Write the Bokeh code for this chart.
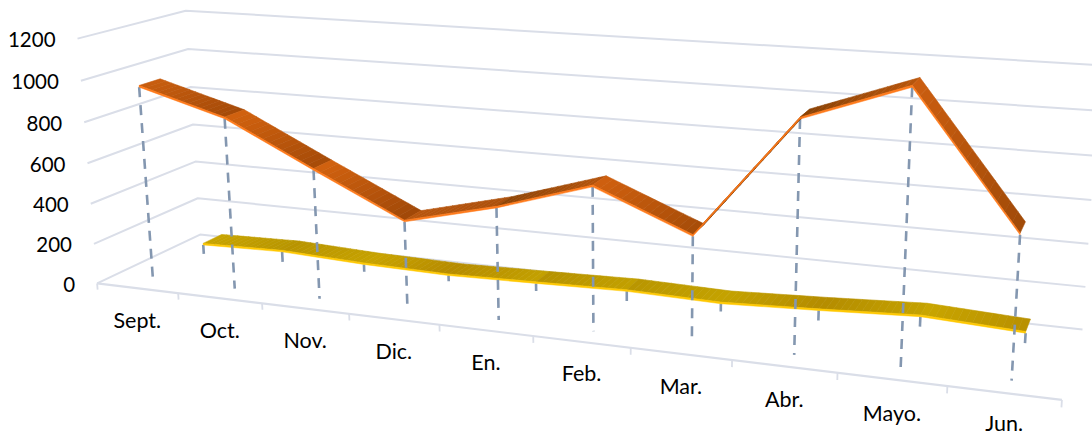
import numpy as np
from bokeh.plotting import figure
from bokeh.embed import file_html
from bokeh.resources import INLINE
from bokeh.core.properties import value

months = ["Sept.", "Oct.", "Nov.", "Dic.", "En.", "Feb.", "Mar.", "Abr.", "Mayo.", "Jun."]
orange_series = [955, 835, 625, 420, 528, 665, 485, 1035, 1200, 625]
gold_series = [48, 57, 38, 29, 38, 48, 38, 57, 80, 57]
y_ticks = [0, 200, 400, 600, 800, 1000, 1200]

# perspective camera of the 3-D plot: (category, value/1000, depth) -> page pixels
CAM = np.array([[77.89719869455499, -18.608485421524122, 122.42268614307488, 96.62308757039521],
                [4.65677791550626, -205.08603081242973, -25.982862184387, 282.8926047975176],
                [-0.0175073405104931, -0.029552610726680136, 0.0974601236236816, 1.0]])


def cat(k):
    return 0.47 + k * 1.006


def pr(i, v, z):
    h = CAM @ np.array([i, v / 1000, z, 1.0])
    return h[0] / h[2], h[1] / h[2]


def mix(a, b, t):
    ca = [int(a[k:k + 2], 16) for k in (1, 3, 5)]
    cb = [int(b[k:k + 2], 16) for k in (1, 3, 5)]
    return "#%02x%02x%02x" % tuple(round(x + (y - x) * t) for x, y in zip(ca, cb))


p = figure(width=1092, height=436, x_range=(0, 1092), y_range=(436, 0),
           output_backend="svg", toolbar_location=None, min_border=0,
           background_fill_color="white", border_fill_color="white", outline_line_color=None)
p.xaxis.visible = False
p.yaxis.visible = False
p.grid.visible = False

GRID = "#dadee8"
N = len(months)

# walls
for t in y_ticks:
    pts = [pr(0, t, 0), pr(0, t, 1), pr(N, t, 1)]
    p.line([a for a, _ in pts], [b for _, b in pts], line_color=GRID, line_width=2)
a0, a1 = pr(0, 0, 0), pr(N, 0, 0)
p.line([a0[0], a1[0]], [a0[1], a1[1]], line_color=GRID, line_width=2.2)
for k in range(N + 1):
    s, e = pr(k, 0, 0), pr(k, -32, 0)
    p.line([s[0], e[0]], [s[1], e[1]], line_color=GRID, line_width=1.8)

DROP = "#8497b0"
THICK = 8


def drops(vals, z):
    for k, v in enumerate(vals):
        s, e = pr(cat(k), v, z), pr(cat(k), 0, z)
        p.line([s[0], e[0]], [s[1], e[1]], line_color=DROP, line_width=2.6, line_dash="10 8")


def ribbon(vals, z1, z2, shades, lip):
    xs, ys, cs = [], [], []
    lx, ly = [], []
    T = 14
    for k in range(len(vals) - 1):
        for q in range(T):
            t0, t1 = q / T, (q + 1) / T
            v0 = vals[k] + (vals[k + 1] - vals[k]) * t0
            v1 = vals[k] + (vals[k + 1] - vals[k]) * t1
            i0 = cat(k) + (cat(k + 1) - cat(k)) * t0
            i1 = cat(k) + (cat(k + 1) - cat(k)) * t1
            pts = [pr(i0, v0 + THICK, z1), pr(i1, v1 + THICK, z1), pr(i1, v1 + THICK, z2), pr(i0, v0 + THICK, z2)]
            xs.append([a for a, _ in pts])
            ys.append([b for _, b in pts])
            cs.append(mix(shades[k][0], shades[k][1], (t0 + t1) / 2))
        pts = [pr(cat(k), vals[k], z1), pr(cat(k + 1), vals[k + 1], z1),
               pr(cat(k + 1), vals[k + 1] + THICK, z1), pr(cat(k), vals[k] + THICK, z1)]
        lx.append([a for a, _ in pts])
        ly.append([b for _, b in pts])
    p.patches(xs, ys, fill_color=cs, line_color=cs, line_width=0.6)
    p.patches(lx, ly, fill_color=lip, line_color=lip, line_width=0.5)


gold_shades = [("#c8a400", "#b89600"), ("#b89400", "#c6a200"), ("#c9a400", "#b58a00"),
               ("#b58c00", "#c4a100"), ("#b69200", "#c2a000"), ("#b99600", "#c4a200"),
               ("#c4a200", "#b48c00"), ("#b48c00", "#c4a200"), ("#c9a600", "#b89000")]
orange_shades = [("#c85e0f", "#a54a08"), ("#d2620f", "#a54b08"), ("#d2620f", "#a04808"),
                 ("#b8560e", "#ac500c"), ("#8e4406", "#b4540c"), ("#d0600f", "#a64c08"),
                 ("#7a3a05", "#8a4205"), ("#8a4205", "#b8560c"), ("#cc5e10", "#a04a08")]

drops(gold_series, 2 / 3)
ribbon(gold_series, 2 / 3, 0.86, gold_shades, "#ffc800")
drops(orange_series, 1 / 6)
ribbon(orange_series, 1 / 6, 0.36, orange_shades, "#ff7a1a")

# labels
lab = [pr(0, t, 0) for t in y_ticks]
p.text([a for a, _ in lab], [b for _, b in lab], text=[str(t) for t in y_ticks],
       text_font=value("Lato"), text_font_size="20.5px", text_color="#000000",
       text_align="right", text_baseline="middle", x_offset=-22, y_offset=1)
lab = [pr(k + .5, 0, 0) for k in range(N)]
off = [min(31.5 + max(0, k - 5) * 0.6, 422.5 - lab[k][1]) for k in range(N)]
p.text([a for a, _ in lab], [b for _, b in lab], text=months,
       text_font=value("Lato"), text_font_size="21.5px", text_color="#000000",
       text_align="center", text_baseline="middle", y_offset=off)

open("out.html", "w").write(file_html(p, INLINE))
